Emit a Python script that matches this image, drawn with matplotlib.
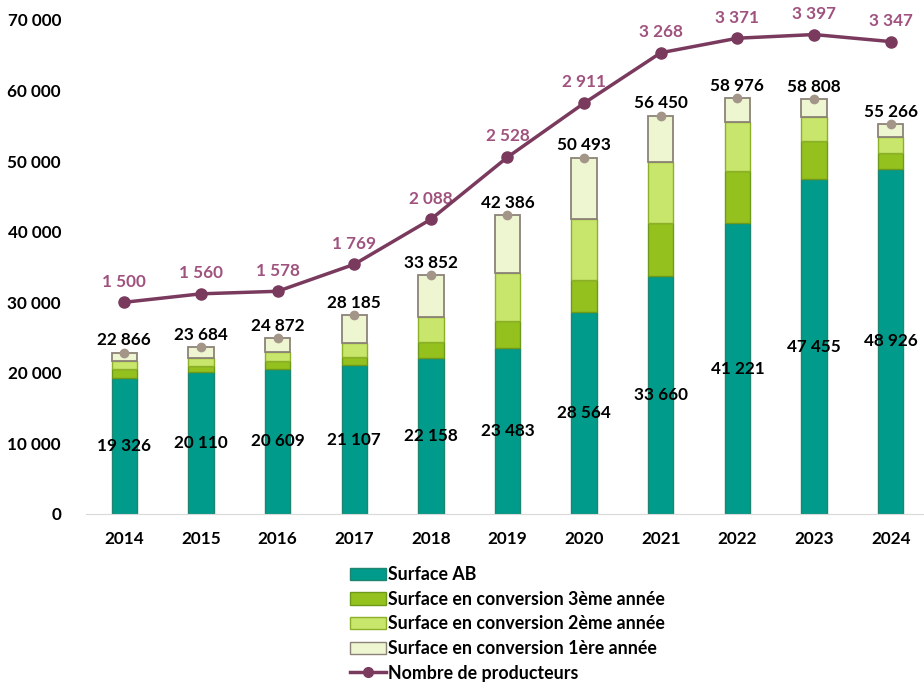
import matplotlib.pyplot as plt
import numpy as np
from matplotlib.lines import Line2D
from matplotlib.patches import Patch

plt.rcParams['font.family'] = ['Lato', 'DejaVu Sans']
plt.rcParams['font.weight'] = 'bold'

annees = ['2014', '2015', '2016', '2017', '2018', '2019', '2020', '2021', '2022', '2023', '2024']
surface_ab = [19326, 20110, 20609, 21107, 22158, 23483, 28564, 33660, 41221, 47455, 48926]
conv_3 = [1220, 900, 1120, 1150, 2170, 3830, 4570, 7550, 7400, 5445, 2290]
conv_2 = [1080, 1040, 1230, 1990, 3600, 6770, 8670, 8645, 6880, 3390, 2245]
total = [22866, 23684, 24872, 28185, 33852, 42386, 50493, 56450, 58976, 58808, 55266]
producteurs = [1500, 1560, 1578, 1769, 2088, 2528, 2911, 3268, 3371, 3397, 3347]
# 1ère année = reste jusqu'au total
conv_1 = [t - a - b - c for t, a, b, c in zip(total, surface_ab, conv_3, conv_2)]

def fmt(v):
    return '{:,}'.format(v).replace(',', ' ')

c_ab = '#009B8A'
c_c3 = '#95C11F'
c_c2 = '#C8E66C'
c_c1 = '#EDF6D0'
c_line = '#7A3A5E'
c_lab = '#A0527E'
fs = 12.3

fig = plt.figure(figsize=(9.24, 6.85), dpi=100)
ax = fig.add_axes([86 / 924, 171 / 685, 843 / 924, 494 / 685])
x = np.arange(len(annees))
w = 0.33

ax.bar(x, surface_ab, w, color=c_ab, edgecolor='#1E8570', linewidth=1)
b3 = np.array(surface_ab)
ax.bar(x, conv_3, w, bottom=b3, color=c_c3, edgecolor='#6E9A1A', linewidth=1)
b2 = b3 + np.array(conv_3)
ax.bar(x, conv_2, w, bottom=b2, color=c_c2, edgecolor='#8DB02A', linewidth=1)
b1 = b2 + np.array(conv_2)
ax.bar(x, conv_1, w, bottom=b1, color=c_c1, edgecolor='#8C8278', linewidth=1.3)
ax.plot(x, total, 'o', color='#A39689', markersize=6, zorder=4)

for i in range(len(x)):
    ax.text(x[i], surface_ab[i] / 2, fmt(surface_ab[i]), ha='center', va='center',
            fontsize=fs, fontweight='bold', color='black')
    ax.text(x[i], total[i] + 600, fmt(total[i]), ha='center', va='bottom',
            fontsize=fs, fontweight='bold', color='black')

ax.set_xlim(-0.5, 10.5)
ax.set_ylim(0, 70000)
ax.set_yticks(range(0, 70001, 10000))
ax.set_yticklabels([fmt(v) for v in range(0, 70001, 10000)])
ax.set_xticks(x)
ax.set_xticklabels(annees)
ax.tick_params(length=0, labelsize=fs, pad=12)
ax.tick_params(axis='y', pad=18)
for s in ['top', 'right', 'left']:
    ax.spines[s].set_visible(False)
ax.spines['bottom'].set_color('#D9D9D9')

ax2 = ax.twinx()
ax2.plot(x, producteurs, '-o', color=c_line, linewidth=2.5, markersize=8, zorder=5)
for i in range(len(x)):
    ax2.text(x[i], producteurs[i] + 90, fmt(producteurs[i]), ha='center', va='bottom',
             fontsize=fs, fontweight='bold', color=c_lab)
ax2.set_ylim(0, 3500)
ax2.axis('off')

handles = [Patch(facecolor=c_ab, edgecolor='#1E8570'),
           Patch(facecolor=c_c3, edgecolor='#6E9A1A'),
           Patch(facecolor=c_c2, edgecolor='#8DB02A'),
           Patch(facecolor=c_c1, edgecolor='#8C8278'),
           Line2D([], [], color=c_line, linewidth=2.5, marker='o', markersize=7)]
labels = ['Surface AB', 'Surface en conversion 3ème année', 'Surface en conversion 2ème année',
          'Surface en conversion 1ère année', 'Nombre de producteurs']
fig.legend(handles, labels, loc='upper left', bbox_to_anchor=(343 / 924, 126 / 685),
           frameon=False, prop={'weight': 'bold', 'size': 12.8}, handlelength=2.0,
           handleheight=0.7, handletextpad=0.15, labelspacing=0.43, borderaxespad=0)

fig.savefig('out.png', dpi=100)
